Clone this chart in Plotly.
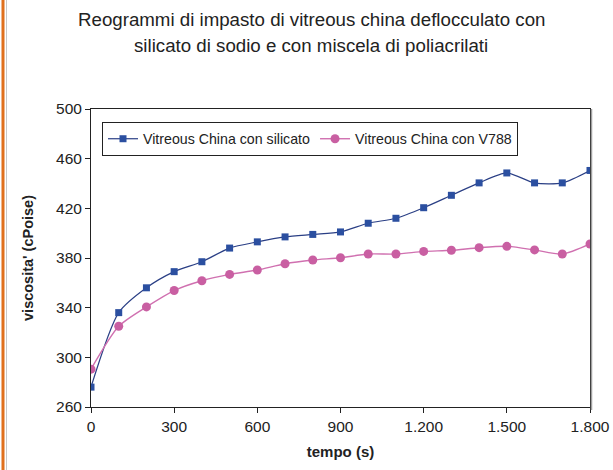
import plotly.graph_objects as go

tempo = [0, 100, 200, 300, 400, 500, 600, 700, 800, 900, 1000,
         1100, 1200, 1300, 1400, 1500, 1600, 1700, 1800]
silicato = [276, 336, 356, 369, 377, 388, 393, 397, 399, 401, 408,
            412, 420.5, 430.5, 440.5, 448.5, 440.5, 440.5, 450.5]
v788 = [290.5, 325, 340.6, 353.8, 361.7, 366.8, 370.3, 375.4, 378.4, 380.2, 383.2,
        383.2, 385.3, 386.2, 388.3, 389.4, 386.5, 383.2, 391.3]

x_ticks = [0, 300, 600, 900, 1200, 1500, 1800]
x_ticktext = ["0", "300", "600", "900", "1.200", "1.500", "1.800"]
y_ticks = [260, 300, 340, 380, 420, 460, 500]

title_lines = ["Reogrammi di impasto di vitreous china deflocculato con",
               "silicato di sodio e con miscela di poliacrilati"]

W, H = 613, 470
L, R, T, B = 91, 23, 109, 63
pw, ph = W - L - R, H - T - B

def px_to_paper_x(px):
    return (px - L) / pw

def px_to_paper_y(py):
    return (H - B - py) / ph

fig = go.Figure()
fig.add_trace(go.Scatter(
    x=tempo, y=silicato, name="Vitreous China con silicato",
    mode="lines+markers",
    line=dict(color="#2A3F85", width=1.2, shape="spline", smoothing=0.7),
    marker=dict(symbol="square", size=7, color="#2B4FA0"),
))
fig.add_trace(go.Scatter(
    x=tempo, y=v788, name="Vitreous China con V788",
    mode="lines+markers",
    line=dict(color="#D070B0", width=1.4, shape="spline", smoothing=0.7),
    marker=dict(symbol="circle", size=9, color="#C95FA2"),
))

font_family = "Liberation Sans, Arial, sans-serif"

fig.update_layout(
    width=W, height=H,
    margin=dict(l=L, r=R, t=T, b=B, autoexpand=False),
    paper_bgcolor="white", plot_bgcolor="white",
    font=dict(family=font_family, color="#222222"),
    showlegend=True,
    legend=dict(
        orientation="h",
        x=px_to_paper_x(102), y=px_to_paper_y(122),
        xanchor="left", yanchor="top",
        bordercolor="#222222", borderwidth=1, bgcolor="white",
        font=dict(size=14.2, color="#222222"),
        itemwidth=30,
        tracegroupgap=0,
    ),
    xaxis=dict(
        range=[0, 1800], tickvals=x_ticks, ticktext=x_ticktext,
        automargin=False,
        showgrid=False, zeroline=False,
        showline=True, linecolor="#222222", linewidth=1, mirror=True,
        ticks="outside", ticklen=5, tickcolor="#222222",
        tickfont=dict(size=15.5, color="#222222"),
        title=dict(text="<b>tempo (s)</b>", font=dict(size=15, color="#222222"), standoff=12),
    ),
    yaxis=dict(
        range=[260, 500], tickvals=y_ticks,
        automargin=False,
        showgrid=False, zeroline=False,
        showline=True, linecolor="#222222", linewidth=1, mirror=True,
        ticks="outside", ticklen=5, tickcolor="#222222",
        tickfont=dict(size=15.5, color="#222222"),
        title=dict(text="<b>viscosita' (cPoise)</b>", font=dict(size=14.5, color="#222222"), standoff=18),
    ),
)

fig.add_annotation(text=title_lines[0], xref="paper", yref="paper",
                   x=px_to_paper_x(311), y=px_to_paper_y(19),
                   xanchor="center", yanchor="middle", showarrow=False,
                   font=dict(size=18.7, color="#222222", family=font_family))
fig.add_annotation(text=title_lines[1], xref="paper", yref="paper",
                   x=px_to_paper_x(311), y=px_to_paper_y(46),
                   xanchor="center", yanchor="middle", showarrow=False,
                   font=dict(size=18.7, color="#222222", family=font_family))

# decorative left frame line (orange) as in the reference
fig.add_shape(type="line", xref="paper", yref="paper",
              x0=px_to_paper_x(3), x1=px_to_paper_x(3),
              y0=px_to_paper_y(0), y1=px_to_paper_y(470),
              line=dict(color="#E0701E", width=3))
fig.add_shape(type="line", xref="paper", yref="paper",
              x0=px_to_paper_x(6.5), x1=px_to_paper_x(6.5),
              y0=px_to_paper_y(0), y1=px_to_paper_y(470),
              line=dict(color="#C8C8C8", width=1))
# light shadow on the right border of the plot area
fig.add_shape(type="line", xref="paper", yref="paper",
              x0=px_to_paper_x(591.5), x1=px_to_paper_x(591.5),
              y0=px_to_paper_y(109), y1=px_to_paper_y(410),
              line=dict(color="#A0A0A0", width=1.5))

fig.write_html("out.html")
